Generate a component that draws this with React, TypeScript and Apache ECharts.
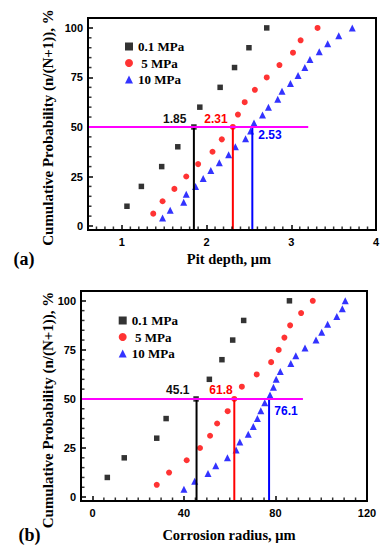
import React, { useEffect, useRef } from "react";
import * as echarts from "echarts";

const legendNames = ["0.1 MPa", " 5 MPa", "10 MPa"];

// Cumulative probability levels (n/(N+1)), %
const probBlack = [10, 20, 30, 40, 50, 60, 70, 80, 90, 100];
const probRed = [6.25, 12.5, 18.75, 25, 31.25, 37.5, 43.75, 50, 56.25, 62.5, 68.75, 75, 81.25, 87.5, 93.75, 100];
const probBlue = [4, 8, 12, 16, 20, 24, 28, 32, 36, 40, 44, 48, 52, 56, 60, 64, 68, 72, 76, 80, 84, 88, 92, 96, 100];

// (a) Pit depth, μm
const pitBlack = [1.06, 1.23, 1.47, 1.66, 1.85, 1.92, 2.16, 2.33, 2.5, 2.71];
const pitRed = [1.37, 1.48, 1.62, 1.76, 1.9, 2.07, 2.18, 2.31, 2.37, 2.45, 2.57, 2.71, 2.86, 3.02, 3.11, 3.31];
const pitBlue = [1.48, 1.57, 1.73, 1.76, 1.87, 1.96, 2.05, 2.15, 2.26, 2.34, 2.46, 2.52, 2.56, 2.66, 2.73, 2.84, 2.89, 2.99, 3.08, 3.16, 3.22, 3.33, 3.43, 3.56, 3.72];
const pitMedians = [1.85, 2.31, 2.54];
const pitMedianLabels = ["1.85", "2.31", "2.53"];
const pitGuideEnd = 3.2;

// (b) Corrosion radius, μm
const radBlack = [6.5, 13.9, 28.1, 32.2, 45.3, 51.1, 56.6, 61.3, 66.1, 86.1];
const radRed = [28.1, 33.5, 41.2, 47.0, 51.4, 54.5, 59.1, 62.0, 65.3, 71.8, 78.1, 81.4, 83.9, 86.4, 91.2, 96.3];
const radBlue = [40.0, 44.7, 50.5, 53.9, 59.0, 62.8, 64.4, 68.1, 70.3, 72.1, 73.6, 75.3, 77.6, 79.1, 80.3, 82.1, 86.7, 88.9, 92.9, 97.7, 100.2, 102.8, 106.8, 109.2, 110.5];
const radMedians = [45.5, 62.0, 77.2];
const radMedianLabels = ["45.1", "61.8", "76.1"];
const radGuideEnd = 92;

// Axis ticks
const yMajor = [0, 25, 50, 75, 100];
const yMinor = [5, 10, 15, 20, 30, 35, 40, 45, 55, 60, 65, 70, 80, 85, 90, 95];
const pitXMajor = [1, 2, 3, 4];
const pitXMinor = [0.7, 0.8, 0.9, 1.1, 1.2, 1.3, 1.4, 1.5, 1.6, 1.7, 1.8, 1.9, 2.1, 2.2, 2.3, 2.4, 2.5, 2.6, 2.7, 2.8, 2.9, 3.1, 3.2, 3.3, 3.4, 3.5, 3.6, 3.7, 3.8, 3.9];
const radXMajor = [0, 40, 80, 120];
const radXMinor = [5, 10, 15, 20, 25, 30, 35, 45, 50, 55, 60, 65, 70, 75, 85, 90, 95, 100, 105, 110, 115];

const colors = ["#000000", "#ff0000", "#0000ff"];
const symbols = ["rect", "circle", "triangle"];
const symbolSizes = [5.5, 6, 7];

const SERIF = '"Liberation Serif", "Times New Roman", serif';
const SANS = '"Liberation Sans", Arial, sans-serif';

const GRIDS = [
  { left: 88, top: 18, width: 288, height: 212 },
  { left: 81, top: 291, width: 286, height: 210 },
];

export default function App() {
  const ref = useRef<HTMLDivElement>(null);
  useEffect(() => {
    if (!ref.current) return;
    const chart = echarts.init(ref.current, undefined, { renderer: "svg" });

    const yMin = -2, yMax = 105;
    const pitMin = 0.6, pitMax = 4;
    const radMin = -5, radMax = 120;

    const labelStyle = { color: "#000", fontFamily: SANS, fontWeight: "bold" as const, fontSize: 11 };
    const axisLine = { show: true, onZero: false, lineStyle: { color: "#000", width: 2 } };

    const majorX = (gi: number, min: number, max: number, vals: number[]) => ({
      type: "value", gridIndex: gi, min, max, position: "bottom",
      axisLine,
      axisTick: { show: true, inside: true, length: 5, lineStyle: { color: "#000", width: 1.5 }, customValues: vals },
      axisLabel: { ...labelStyle, margin: 6, customValues: vals },
      splitLine: { show: false },
    });
    const majorY = (gi: number) => ({
      type: "value", gridIndex: gi, min: yMin, max: yMax, position: "left",
      axisLine,
      axisTick: { show: true, inside: true, length: 5, lineStyle: { color: "#000", width: 1.5 }, customValues: yMajor },
      axisLabel: { ...labelStyle, margin: 5, customValues: yMajor },
      splitLine: { show: false },
    });

    const probs = [probBlack, probRed, probBlue];
    const scatterSet = (ai: number, xs: number[][]) =>
      xs.map((arr, k) => ({
        type: "scatter",
        name: legendNames[k],
        xAxisIndex: ai,
        yAxisIndex: ai,
        symbol: symbols[k],
        symbolSize: symbolSizes[k],
        itemStyle: { color: colors[k] },
        data: arr.map((x, i) => [x, probs[k][i]]),
        z: 3,
      }));

    const minorTicks = (ai: number, xMin: number, xMinor: number[]) => [
      {
        type: "scatter", xAxisIndex: ai, yAxisIndex: ai, silent: true, clip: false,
        symbol: "rect", symbolSize: [1.5, 3.5], symbolOffset: [0, -1.75],
        itemStyle: { color: "#000" },
        data: xMinor.map((v) => [v, yMin]), z: 5,
      },
      {
        type: "scatter", xAxisIndex: ai, yAxisIndex: ai, silent: true, clip: false,
        symbol: "rect", symbolSize: [3.5, 1.5], symbolOffset: [1.75, 0],
        itemStyle: { color: "#000" },
        data: yMinor.map((v) => [xMin, v]), z: 5,
      },
    ];

    const guideSet = (ai: number, xMin: number, medians: number[], end: number) => [
      ...medians.map((m, k) => ({
        type: "line",
        xAxisIndex: ai,
        yAxisIndex: ai,
        symbol: "none",
        lineStyle: { color: colors[k], width: 2 },
        data: [[m, yMin], [m, 50]],
        z: 4,
        silent: true,
      })),
      {
        type: "line",
        xAxisIndex: ai,
        yAxisIndex: ai,
        symbol: "none",
        lineStyle: { color: "#ff00ff", width: 2 },
        data: [[xMin, 50], [end, 50]],
        z: 4,
        silent: true,
      },
    ];

    const txt = (text: string, x: number, y: number, size: number, color: string, family: string, rot = 0) => ({
      type: "text",
      x, y,
      rotation: rot,
      style: {
        text, fill: color, fontSize: size, fontWeight: "bold", fontFamily: family,
        textAlign: "center", textVerticalAlign: "middle",
      },
    });

    const frame = (g: { left: number; top: number; width: number; height: number }) => ({
      type: "rect",
      silent: true,
      z: 100,
      shape: { x: g.left, y: g.top, width: g.width, height: g.height },
      style: { fill: "transparent", stroke: "#000", lineWidth: 2 },
    });

    const legendCommon = {
      orient: "vertical",
      padding: 0,
      itemWidth: 8,
      itemHeight: 8,
      itemGap: 3.5,
      data: legendNames,
      textStyle: { color: "#000", fontFamily: SERIF, fontWeight: "bold", fontSize: 13 },
      selectedMode: false,
    };

    chart.setOption({
      animation: false,
      backgroundColor: "#fff",
      grid: GRIDS,
      xAxis: [majorX(0, pitMin, pitMax, pitXMajor), majorX(1, radMin, radMax, radXMajor)],
      yAxis: [majorY(0), majorY(1)],
      legend: [
        { ...legendCommon, left: 125, top: 40 },
        { ...legendCommon, left: 118.7, top: 314 },
      ],
      series: [
        ...scatterSet(0, [pitBlack, pitRed, pitBlue]),
        ...guideSet(0, pitMin, pitMedians, pitGuideEnd),
        ...minorTicks(0, pitMin, pitXMinor),
        ...scatterSet(1, [radBlack, radRed, radBlue]),
        ...guideSet(1, radMin, radMedians, radGuideEnd),
        ...minorTicks(1, radMin, radXMinor),
      ],
      graphic: [
        frame(GRIDS[0]),
        frame(GRIDS[1]),
        txt("Cumulative Probability (n/(N+1)), %", 48, 127.5, 15, "#000", SERIF, Math.PI / 2),
        txt("Cumulative Probability (n/(N+1)), %", 48, 410, 15, "#000", SERIF, Math.PI / 2),
        txt("Pit depth, μm", 229, 258.5, 14.5, "#000", SERIF),
        txt("Corrosion radius, μm", 229, 535, 14.5, "#000", SERIF),
        txt("(a)", 24, 258.5, 18, "#000", SERIF),
        txt("(b)", 29.5, 535, 18, "#000", SERIF),
        txt(pitMedianLabels[0], 174.7, 119, 12, "#111", SANS),
        txt(pitMedianLabels[1], 216, 119, 12, colors[1], SANS),
        txt(pitMedianLabels[2], 270, 135, 12, colors[2], SANS),
        txt(radMedianLabels[0], 177.7, 390, 12, "#111", SANS),
        txt(radMedianLabels[1], 221, 390, 12, colors[1], SANS),
        txt(radMedianLabels[2], 286, 410.7, 12, colors[2], SANS),
      ],
    });

    return () => chart.dispose();
  }, []);

  return <div ref={ref} style={{ position: "fixed", left: 0, top: 0, width: 388, height: 550 }} />;
}
